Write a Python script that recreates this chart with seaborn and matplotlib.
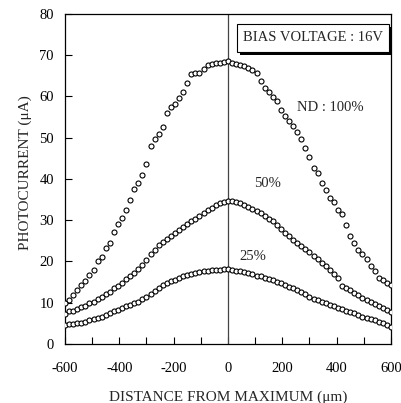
import matplotlib
matplotlib.use("Agg")
import matplotlib.pyplot as plt
import matplotlib.patheffects as pe
from matplotlib.patches import Rectangle
import pandas as pd
import seaborn as sns

distance = [-600, -585, -570, -555, -540, -525, -510, -495, -480, -465,
            -450, -435, -420, -405, -390, -375, -360, -345, -330, -315,
            -300, -285, -270, -255, -240, -225, -210, -195, -180, -165,
            -150, -135, -120, -105, -90, -75, -60, -45, -30, -15,
            0, 15, 30, 45, 60, 75, 90, 105, 120, 135,
            150, 165, 180, 195, 210, 225, 240, 255, 270, 285,
            300, 315, 330, 345, 360, 375, 390, 405, 420, 435,
            450, 465, 480, 495, 510, 525, 540, 555, 570, 585, 600]

nd100 = [9.9, 10.7, 11.8, 13.1, 14.2, 15.2, 16.8, 18.0, 20.0, 21.2,
         23.2, 24.5, 27.2, 29.0, 30.6, 32.4, 34.8, 37.6, 39.1, 41.0,
         43.7, 47.9, 49.8, 50.8, 52.6, 55.9, 57.5, 58.3, 59.6, 61.2,
         63.2, 65.4, 65.6, 65.6, 66.6, 67.6, 67.8, 68.0, 68.0, 68.3,
         68.5, 68.1, 67.8, 67.6, 67.3, 66.8, 66.3, 65.6, 63.7, 62.0,
         61.2, 59.8, 58.8, 56.7, 55.2, 54.0, 52.8, 51.5, 49.8, 47.4,
         45.3, 42.6, 41.4, 39.1, 37.4, 35.4, 34.4, 32.6, 31.6, 28.8,
         26.3, 24.6, 22.9, 21.9, 20.6, 19.0, 17.6, 16.1, 15.6, 14.8, 14.4]

nd50 = [7.3, 7.9, 8.1, 8.5, 8.9, 9.3, 9.9, 10.3, 10.9, 11.5,
        12.2, 12.7, 13.5, 14.1, 14.9, 15.7, 16.5, 17.3, 18.2, 19.2,
        20.4, 21.8, 22.9, 23.9, 24.7, 25.5, 26.3, 26.9, 27.7, 28.3,
        29.1, 29.8, 30.4, 31.1, 31.8, 32.4, 33.0, 33.8, 34.2, 34.5,
        34.6, 34.7, 34.5, 34.2, 33.8, 33.3, 32.8, 32.3, 31.7, 31.0,
        30.3, 29.7, 28.8, 27.8, 27.0, 26.2, 25.3, 24.5, 23.8, 23.0,
        22.3, 21.3, 20.5, 19.6, 18.9, 18.0, 17.0, 15.9, 14.1, 13.5,
        13.1, 12.4, 11.8, 11.2, 10.7, 10.1, 9.7, 9.1, 8.7, 8.3, 7.8]

nd25 = [4.6, 4.8, 4.8, 5.0, 5.2, 5.4, 5.7, 6.0, 6.2, 6.6,
        7.0, 7.5, 8.0, 8.3, 8.7, 9.1, 9.5, 9.9, 10.3, 10.9,
        11.5, 12.2, 12.9, 13.6, 14.2, 14.7, 15.2, 15.6, 16.1, 16.4,
        16.7, 17.0, 17.2, 17.4, 17.6, 17.8, 18.0, 18.0, 18.0, 18.1,
        18.2, 18.0, 17.8, 17.6, 17.4, 17.2, 17.0, 16.6, 16.4, 16.1,
        15.8, 15.5, 15.1, 14.8, 14.4, 13.9, 13.5, 13.1, 12.7, 12.2,
        11.5, 10.9, 10.7, 10.3, 9.9, 9.5, 9.1, 8.7, 8.4, 8.1,
        7.7, 7.5, 7.1, 6.6, 6.2, 6.0, 5.8, 5.4, 5.0, 4.6, 4.2]

series_labels = ["ND : 100%", "50%", "25%"]
x_ticks = [-600, -400, -200, 0, 200, 400, 600]
x_ticklabels = ["-600", "-400", "-200", "0", "200", "400", "600"]
y_ticks = [0, 10, 20, 30, 40, 50, 60, 70, 80]
y_ticklabels = ["0", "10", "20", "30", "40", "50", "60", "70", "80"]

df = pd.DataFrame({
    "distance": distance * 3,
    "current": nd100 + nd50 + nd25,
    "nd": [series_labels[0]] * len(distance) + [series_labels[1]] * len(distance)
          + [series_labels[2]] * len(distance),
})

sns.set_theme(style="ticks")
plt.rcParams["font.family"] = ["Liberation Serif", "DejaVu Serif"]
plt.rcParams["axes.unicode_minus"] = False

fig = plt.figure(figsize=(4.02, 4.03), dpi=100)
ax = fig.add_axes([0.1617, 0.1464, 0.8109, 0.8189])

ax.axvline(0, color="#444444", lw=0.9, zorder=1)
sns.scatterplot(data=df, x="distance", y="current",
                marker="o", color="white", edgecolor="black", linewidth=0.8,
                s=13, ax=ax, zorder=3, legend=False)

ax.set_xlim(-600, 600)
ax.set_ylim(0, 80)
ax.set_xticks(x_ticks)
ax.set_xticklabels(x_ticklabels)
ax.set_xticks(range(-600, 601, 100), minor=True)
ax.set_yticks(y_ticks)
ax.set_yticklabels(y_ticklabels)
ax.tick_params(axis="both", which="both", direction="in", labelsize=10.5,
               colors="black", width=0.8, top=False, right=False)
ax.tick_params(axis="both", which="major", length=5)
ax.tick_params(axis="x", which="major", pad=13)
ax.tick_params(axis="x", which="minor", length=5)
ax.tick_params(axis="y", pad=8)
for sp in ax.spines.values():
    sp.set_visible(True)
    sp.set_color("black")
    sp.set_linewidth(0.9)

ax.set_xlabel("DISTANCE FROM MAXIMUM (μm)", fontsize=11, labelpad=11)
ax.set_ylabel("PHOTOCURRENT (μA)", fontsize=11)
ax.yaxis.set_label_coords(-0.10, 0.518)

box = Rectangle((33, 70.8), 560, 6.8, fc="white", ec="black", lw=0.8, zorder=5)
box.set_path_effects([
    pe.SimplePatchShadow(offset=(2.5, -2.5), shadow_rgbFace="black", alpha=1.0),
    pe.Normal()])
ax.add_patch(box)
ax.text(313, 74.2, "BIAS VOLTAGE : 16V", fontsize=10.5, ha="center", va="center", zorder=6)

ax.text(376, 57.4, series_labels[0], fontsize=10.5, ha="center", va="center")
ax.text(147, 38.9, series_labels[1], fontsize=10.5, ha="center", va="center")
ax.text(92, 21.2, series_labels[2], fontsize=10.5, ha="center", va="center")

fig.savefig("out.png", dpi=100)
